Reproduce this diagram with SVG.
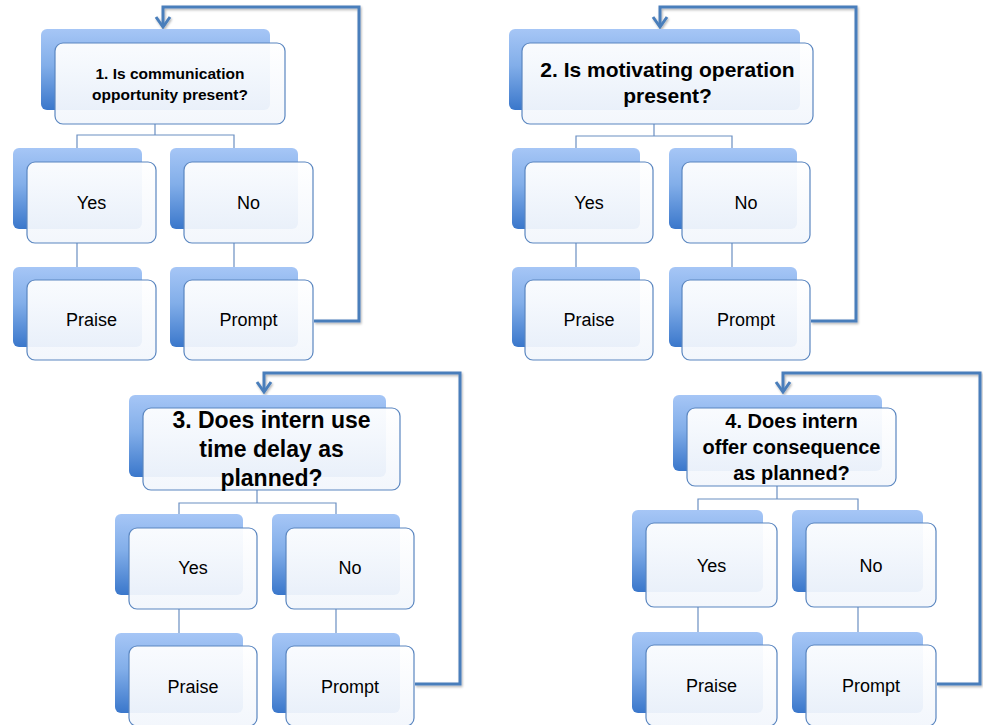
<svg xmlns="http://www.w3.org/2000/svg" width="983" height="725" viewBox="0 0 983 725">
<defs>
<linearGradient id="gBack" x1="0" y1="0" x2="0" y2="1">
<stop offset="0" stop-color="#a6c6f6"/>
<stop offset="0.45" stop-color="#82aee9"/>
<stop offset="1" stop-color="#3a77cb"/>
</linearGradient>
<linearGradient id="gFront" x1="0" y1="0" x2="0" y2="1">
<stop offset="0" stop-color="#ffffff"/>
<stop offset="1" stop-color="#f2f6fc"/>
</linearGradient>
<marker id="chev" markerUnits="userSpaceOnUse" markerWidth="20" markerHeight="20" viewBox="-12 -10 14 20" refX="0" refY="0" orient="auto">
<path d="M-10,-7 L0,0 L-10,7" fill="none" stroke="#4a7ebb" stroke-width="3" stroke-linejoin="miter"/>
</marker>
<filter id="sh" x="-5%" y="-5%" width="110%" height="110%">
<feDropShadow dx="1" dy="1.5" stdDeviation="0.8" flood-color="#000" flood-opacity="0.3"/>
</filter>
</defs>
<style>
.back{fill:url(#gBack);}
.front{fill:url(#gFront);fill-opacity:0.94;stroke:#5a86c0;stroke-width:1.2;}
.t{font-family:"Liberation Sans",Arial,sans-serif;font-size:18px;fill:#000;text-anchor:middle;}
.q{font-family:"Liberation Sans",Arial,sans-serif;font-weight:bold;fill:#000;text-anchor:middle;}
.thin{fill:none;stroke:#6b8fc2;stroke-width:1.2;}
.fb{fill:none;stroke:#4a7ebb;stroke-width:3;marker-end:url(#chev);filter:url(#sh);}
</style>
<g id="connectors">
<path class="thin" d="M155,124 V135 M77,162 V135 H234 V162 M77,243 V280 M234,243 V280"/>
<path class="thin" d="M654,124 V136 M576,162 V136 H732 V162 M576,243 V280 M732,243 V280"/>
<path class="thin" d="M257,490 V503 M179,528 V503 H336 V528 M179,609 V646 M336,609 V646"/>
<path class="thin" d="M777,486 V499 M698,523 V499 H858 V523 M698,607 V645 M858,607 V645"/>
<path class="fb" d="M314,321 H359 V7 H163 V27"/>
<path class="fb" d="M811,321 H856 V7 H660 V27"/>
<path class="fb" d="M415,684 H460 V373 H264 V392"/>
<path class="fb" d="M937,684 H980 V373 H783 V392"/>
</g>
<g id="q1"><rect class="back" x="41" y="29" width="229" height="81" rx="6"/><rect class="front" x="55" y="43" width="230" height="81" rx="8"/>
<text class="q" font-size="15.5" x="170" y="79">1. Is communication</text><text class="q" font-size="15.5" x="170" y="100">opportunity present?</text></g>
<g id="y1"><rect class="back" x="13" y="148" width="129" height="81" rx="6"/><rect class="front" x="27" y="162" width="129" height="81" rx="8"/><text class="t" x="91.5" y="209">Yes</text></g>
<g id="n1"><rect class="back" x="170" y="148" width="128" height="81" rx="6"/><rect class="front" x="184" y="162" width="129" height="81" rx="8"/><text class="t" x="248.5" y="209">No</text></g>
<g id="p1"><rect class="back" x="13" y="267" width="129" height="80" rx="6"/><rect class="front" x="27" y="280" width="129" height="80" rx="8"/><text class="t" x="91.5" y="326">Praise</text></g>
<g id="r1"><rect class="back" x="170" y="267" width="128" height="80" rx="6"/><rect class="front" x="184" y="280" width="129" height="80" rx="8"/><text class="t" x="248.5" y="326">Prompt</text></g>

<g id="q2"><rect class="back" x="509" y="29" width="291" height="81" rx="6"/><rect class="front" x="522" y="43" width="291" height="81" rx="8"/>
<text class="q" font-size="21" x="667.5" y="77">2. Is motivating operation</text><text class="q" font-size="21" x="667.5" y="103">present?</text></g>
<g id="y2"><rect class="back" x="512" y="148" width="128" height="81" rx="6"/><rect class="front" x="525" y="162" width="128" height="81" rx="8"/><text class="t" x="589" y="209">Yes</text></g>
<g id="n2"><rect class="back" x="669" y="148" width="128" height="81" rx="6"/><rect class="front" x="682" y="162" width="128" height="81" rx="8"/><text class="t" x="746" y="209">No</text></g>
<g id="p2"><rect class="back" x="512" y="267" width="128" height="80" rx="6"/><rect class="front" x="525" y="280" width="128" height="80" rx="8"/><text class="t" x="589" y="326">Praise</text></g>
<g id="r2"><rect class="back" x="669" y="267" width="128" height="80" rx="6"/><rect class="front" x="682" y="280" width="128" height="80" rx="8"/><text class="t" x="746" y="326">Prompt</text></g>

<g id="q3"><rect class="back" x="129" y="395" width="257" height="82" rx="6"/><rect class="front" x="143" y="408" width="257" height="82" rx="8"/>
<text class="q" font-size="23" x="271.5" y="428">3. Does intern use</text><text class="q" font-size="23" x="271.5" y="457">time delay as</text><text class="q" font-size="23" x="271.5" y="486">planned?</text></g>
<g id="y3"><rect class="back" x="115" y="514" width="128" height="81" rx="6"/><rect class="front" x="129" y="528" width="128" height="81" rx="8"/><text class="t" x="193" y="574">Yes</text></g>
<g id="n3"><rect class="back" x="272" y="514" width="128" height="81" rx="6"/><rect class="front" x="286" y="528" width="128" height="81" rx="8"/><text class="t" x="350" y="574">No</text></g>
<g id="p3"><rect class="back" x="115" y="633" width="128" height="80" rx="6"/><rect class="front" x="129" y="646" width="128" height="80" rx="8"/><text class="t" x="193" y="693">Praise</text></g>
<g id="r3"><rect class="back" x="272" y="633" width="128" height="80" rx="6"/><rect class="front" x="286" y="646" width="128" height="80" rx="8"/><text class="t" x="350" y="693">Prompt</text></g>

<g id="q4"><rect class="back" x="673" y="395" width="209" height="76" rx="6"/><rect class="front" x="687" y="408" width="209" height="78" rx="8"/>
<text class="q" font-size="20" x="791.5" y="428">4. Does intern</text><text class="q" font-size="20" x="791.5" y="454">offer consequence</text><text class="q" font-size="20" x="791.5" y="480">as planned?</text></g>
<g id="y4"><rect class="back" x="632" y="510" width="131" height="82" rx="6"/><rect class="front" x="646" y="523" width="131" height="84" rx="8"/><text class="t" x="711.5" y="572">Yes</text></g>
<g id="n4"><rect class="back" x="792" y="510" width="131" height="82" rx="6"/><rect class="front" x="806" y="523" width="130" height="84" rx="8"/><text class="t" x="871" y="572">No</text></g>
<g id="p4"><rect class="back" x="632" y="632" width="131" height="81" rx="6"/><rect class="front" x="646" y="645" width="131" height="81" rx="8"/><text class="t" x="711.5" y="692">Praise</text></g>
<g id="r4"><rect class="back" x="792" y="632" width="131" height="81" rx="6"/><rect class="front" x="806" y="645" width="130" height="81" rx="8"/><text class="t" x="871" y="692">Prompt</text></g>
</svg>
